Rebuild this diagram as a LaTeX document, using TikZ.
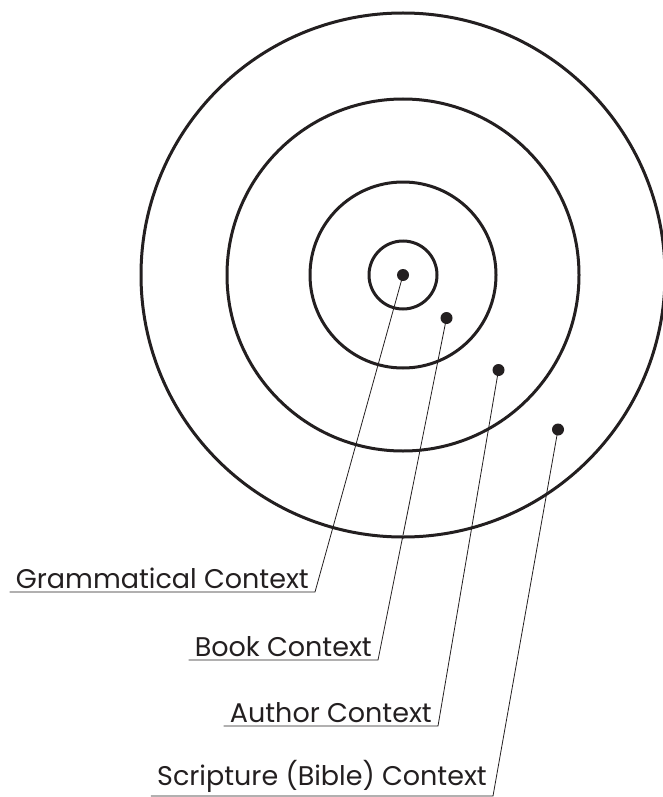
\documentclass[tikz,border=0pt]{standalone}
\usepackage{fontspec}
\setmainfont{Poppins}
\usepackage{xcolor}
\usetikzlibrary{positioning}
\definecolor{ink}{HTML}{231F20}

\begin{document}
\begin{tikzpicture}[
  x=1pt,
  y=-1pt,
  every node/.style={font=\fontsize{27}{32}\selectfont, text=ink},
  ring/.style={draw=ink, line width=3pt},
  spot/.style={circle, fill=ink, inner sep=0pt, minimum size=12pt},
  ctxlabel/.style={anchor=south east, inner xsep=6pt, inner ysep=3pt},
  leader/.style={draw=ink, line width=0.8pt}
]
\useasboundingbox (0,0) rectangle (663,797);
\coordinate (ctr) at (403,275);
\draw[ring] (ctr) circle[radius=34];
\draw[ring] (ctr) circle[radius=93];
\draw[ring] (ctr) circle[radius=176];
\draw[ring] (ctr) circle[radius=262];

\node[spot] (gram) at (403,275) {};
\node[spot] (book) at (446.5,318) {};
\node[spot] (auth) at (498.5,370) {};
\node[spot] (scri) at (558,429.5) {};

\node[ctxlabel] (lgram) at (315,592) {Grammatical Context};
\node[ctxlabel] (lbook) at (378,660) {Book Context};
\node[ctxlabel] (lauth) at (438,726) {Author Context};
\node[ctxlabel] (lscri) at (493,796) {Scripture (Bible) Context};

\draw[leader] (lgram.south west) -- (lgram.south east) -- (gram.center);
\draw[leader] (lbook.south west) -- (lbook.south east) -- (book.center);
\draw[leader] (lauth.south west) -- (lauth.south east) -- (auth.center);
\draw[leader] (lscri.south west) -- (lscri.south east) -- (scri.center);
\end{tikzpicture}
\end{document}
